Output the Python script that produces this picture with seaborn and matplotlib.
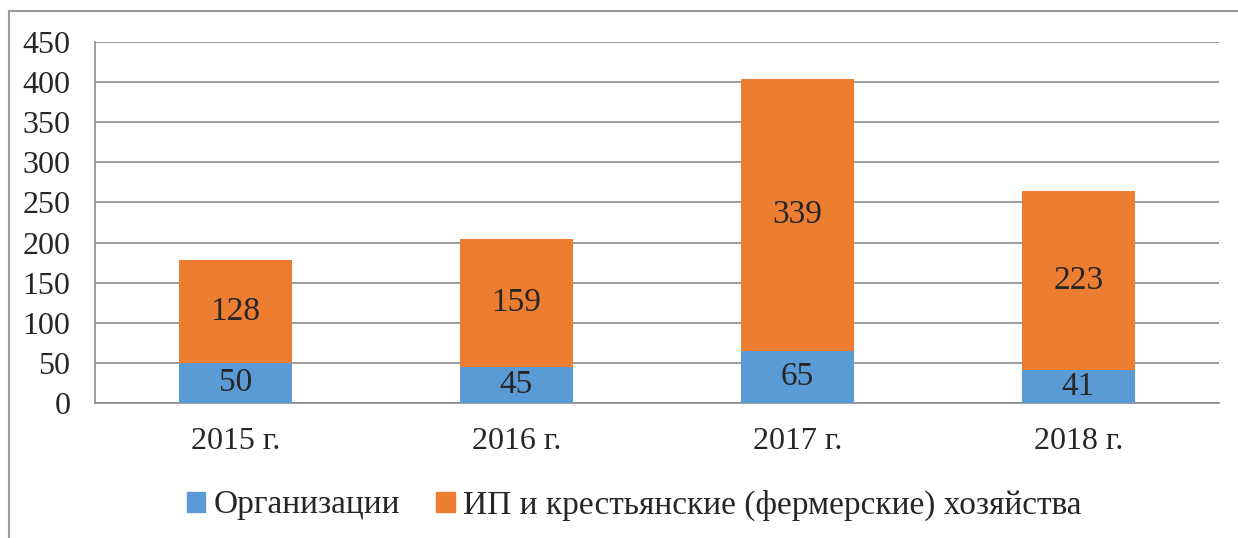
import seaborn as sns
import matplotlib.pyplot as plt
import matplotlib.patches as mpatches
import pandas as pd

# data
years = ["2015 г.", "2016 г.", "2017 г.", "2018 г."]
org = [50, 45, 65, 41]
ip = [128, 159, 339, 223]
labels = ["Организации", "ИП и крестьянские (фермерские) хозяйства"]
colors = ["#5B9BD5", "#ED7D31"]

df = pd.DataFrame({"Year": years, "Org": org, "IP": ip})

sns.set_style("white")
plt.rcParams["font.family"] = ["Liberation Serif", "DejaVu Serif"]

fig = plt.figure(figsize=(12.38, 5.38), dpi=100)
W, H = 1238, 538
ax = fig.add_axes([95 / W, 1 - 403 / H, (1219 - 95) / W, (403 - 42) / H])

sns.barplot(data=df, x="Year", y="Org", color=colors[0], width=0.4,
            saturation=1, linewidth=0, ax=ax, zorder=3)
sns.barplot(data=df, x="Year", y="IP", bottom=df["Org"], color=colors[1],
            width=0.4, saturation=1, linewidth=0, ax=ax, zorder=3)

# value labels
for i in range(len(years)):
    ax.text(i, org[i] / 2, str(org[i]), ha="center", va="center",
            fontsize=24, zorder=4)
    ax.text(i, org[i] + ip[i] / 2, str(ip[i]), ha="center", va="center",
            fontsize=24, zorder=4)

ax.set_xlim(-0.5, 3.5)
ax.set_ylim(0, 450)
ax.set_yticks(range(0, 451, 50))
ax.yaxis.grid(True, color="#8c8c8c", linewidth=1.2, zorder=0)
ax.set_xlabel("")
ax.set_ylabel("")

for s in ["top", "right"]:
    ax.spines[s].set_visible(False)
for s in ["left", "bottom"]:
    ax.spines[s].set_color("#8c8c8c")
    ax.spines[s].set_linewidth(1.2)

# x ticks at category borders
ax.set_xticks([-0.5, 0.5, 1.5, 2.5, 3.5], minor=True)
ax.tick_params(axis="x", which="minor", length=6.5, color="#8c8c8c", width=1.2)
ax.tick_params(axis="x", which="major", length=0, labelsize=23, pad=17)
ax.tick_params(axis="y", length=5.8, color="#8c8c8c", width=1.2,
               labelsize=23, pad=12)

handles = [mpatches.Patch(color=c, label=l) for c, l in zip(colors, labels)]
fig.legend(handles=handles, loc="center", bbox_to_anchor=(634 / W, 1 - 505 / H),
           ncol=2, frameon=False, fontsize=24, handlelength=0.55,
           handleheight=0.55, handletextpad=0.25, columnspacing=1.1)

# outer chart frame
fig.patches.append(mpatches.Rectangle((9 / W, -0.1), 1.2, 1 - 11 / H + 0.1,
                                      transform=fig.transFigure, fill=False,
                                      edgecolor="#9a9a9a", linewidth=1.5))

fig.savefig("out.png", dpi=100)
plt.close()
